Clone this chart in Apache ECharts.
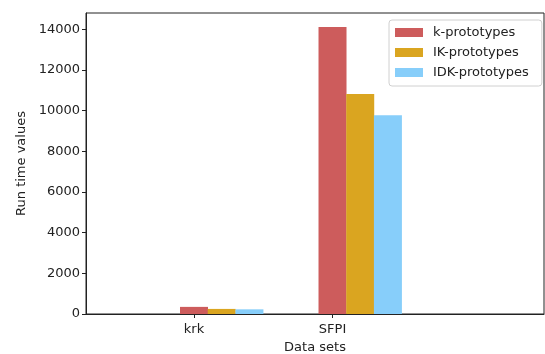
<!DOCTYPE html>
<html>
<head>
<meta charset="utf-8">
<script src="https://cdn.jsdelivr.net/npm/echarts@6/dist/echarts.min.js"></script>
<style>
  html, body { margin: 0; padding: 0; background: #fff; }
  #chart { width: 545px; height: 354px; }
</style>
</head>
<body>
<div id="chart"></div>
<script>
// Run times per data set for each algorithm
const datasets = ['krk', 'SFPI'];
const seriesNames = ['k-prototypes', 'IK-prototypes', 'IDK-prototypes'];
const kPrototypes = [350, 14120];
const ikPrototypes = [250, 10820];
const idkPrototypes = [230, 9780];
const yTicks = [0, 2000, 4000, 6000, 8000, 10000, 12000, 14000];

const colors = ['#CD5C5C', '#DAA520', '#87CEFA'];
const values = [kPrototypes, ikPrototypes, idkPrototypes];
const slot = 0.2; // width of one bar in x units; bars of a group sit side by side

const font = 'DejaVu Sans';
const ink = '#222';

const series = seriesNames.map((name, s) => ({
  name,
  type: 'bar',
  barWidth: 28,
  barGap: '-100%',
  itemStyle: { color: colors[s] },
  data: values[s].map((v, i) => [i + s * slot, v])
}));

const chart = echarts.init(document.getElementById('chart'));
chart.setOption({
  animation: false,
  grid: {
    left: 86, right: 1, top: 13, bottom: 40,
    outerBoundsMode: 'none',
    containLabel: false,
    show: true, borderColor: ink, borderWidth: 1, backgroundColor: 'transparent'
  },
  legend: {
    orient: 'vertical',
    left: 389, top: 20,
    padding: [6, 13, 7, 6],
    itemWidth: 28, itemHeight: 9, itemGap: 7,
    icon: 'rect',
    borderColor: '#d0d0d0', borderWidth: 1, borderRadius: 3,
    backgroundColor: 'rgba(255,255,255,0.85)',
    textStyle: { fontFamily: font, fontSize: 13, color: ink, lineHeight: 13, padding: [0, 0, 0, 5] },
    data: seriesNames
  },
  xAxis: {
    type: 'value',
    min: -0.78, max: 2.527,
    name: 'Data sets',
    nameLocation: 'middle',
    nameGap: 27,
    nameTextStyle: { fontFamily: font, fontSize: 13, color: ink, verticalAlign: 'top' },
    axisLine: { show: true, onZero: false, lineStyle: { color: ink, width: 1 } },
    axisTick: { show: true, length: 4, lineStyle: { color: ink }, customValues: datasets.map((d, i) => i) },
    axisLabel: {
      fontFamily: font, fontSize: 13, color: ink, margin: 9,
      customValues: datasets.map((d, i) => i),
      formatter: v => datasets[Math.round(v)]
    },
    splitLine: { show: false }
  },
  yAxis: {
    type: 'value',
    min: 0, max: 14805,
    name: 'Run time values',
    nameLocation: 'middle',
    nameGap: 56,
    nameTextStyle: { fontFamily: font, fontSize: 13, color: ink },
    axisLine: { show: true, onZero: false, lineStyle: { color: ink, width: 1 } },
    axisTick: { show: true, length: 4, lineStyle: { color: ink }, customValues: yTicks },
    axisLabel: {
      fontFamily: font, fontSize: 13, color: ink, margin: 6,
      customValues: yTicks,
      formatter: v => String(v)
    },
    splitLine: { show: false }
  },
  series
});
</script>
</body>
</html>
